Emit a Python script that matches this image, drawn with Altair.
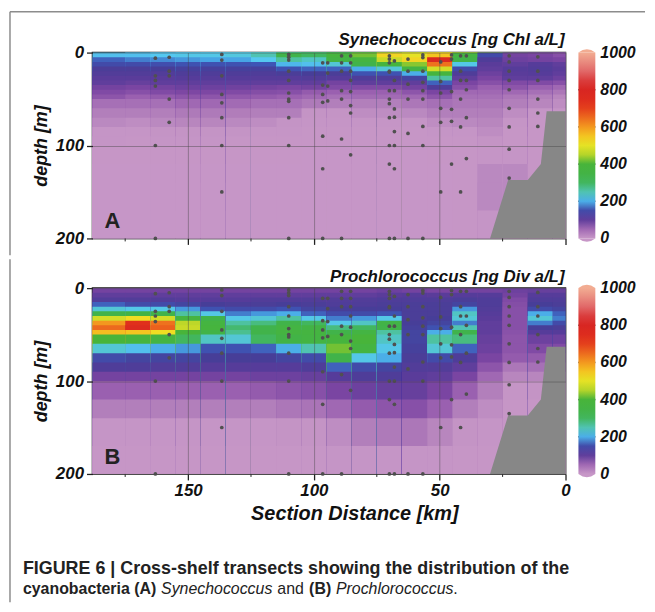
import altair as alt
import pandas as pd

# ---------------- data ----------------
dist_edges = [188, 175, 165, 155, 145, 135, 125, 115, 105, 95, 85, 75, 65, 55, 45, 35, 25, 15, 5, 0]
depth_edges = [0, 5, 10, 15, 20, 25, 30, 35, 40, 45, 50, 60, 70, 80, 90, 100, 120, 140, 170, 200]

# one vertical profile (19 depth cells) per distance column
syn_grid = [
    [210, 170, 150, 125, 115, 105, 100, 85, 75, 65, 45, 35, 28, 15, 12, 8, 5, 5, 5],
    [210, 180, 150, 125, 115, 105, 95, 80, 70, 55, 45, 35, 25, 15, 10, 8, 5, 5, 5],
    [215, 185, 155, 130, 115, 105, 100, 85, 75, 60, 45, 35, 28, 18, 12, 8, 5, 5, 5],
    [220, 190, 160, 135, 120, 110, 100, 90, 78, 65, 50, 38, 30, 20, 12, 8, 5, 5, 5],
    [220, 195, 160, 135, 120, 110, 100, 90, 78, 65, 50, 38, 30, 20, 12, 8, 5, 5, 5],
    [225, 195, 160, 135, 120, 110, 100, 88, 75, 62, 48, 36, 28, 18, 10, 8, 5, 5, 5],
    [250, 215, 165, 135, 120, 110, 100, 85, 72, 60, 45, 35, 25, 15, 10, 8, 5, 5, 5],
    [330, 260, 205, 160, 125, 110, 100, 80, 70, 55, 45, 35, 20, 12, 10, 8, 5, 5, 5],
    [300, 240, 210, 170, 130, 115, 100, 85, 60, 50, 38, 20, 12, 10, 8, 5, 5, 5, 5],
    [380, 350, 230, 170, 125, 110, 85, 75, 55, 45, 35, 20, 12, 10, 8, 5, 5, 5, 5],
    [420, 370, 330, 200, 160, 120, 100, 75, 55, 48, 35, 25, 15, 10, 8, 5, 5, 5, 5],
    [530, 470, 380, 230, 160, 120, 100, 75, 55, 48, 35, 25, 15, 10, 8, 5, 5, 5, 5],
    [500, 530, 430, 350, 200, 140, 100, 85, 65, 50, 40, 28, 15, 10, 8, 5, 5, 5, 5],
    [550, 780, 640, 480, 380, 260, 170, 120, 80, 65, 45, 35, 25, 15, 10, 8, 5, 5, 5],
    [360, 330, 220, 150, 120, 100, 80, 70, 50, 45, 40, 35, 28, 15, 10, 8, 8, 8, 8],
    [150, 120, 105, 100, 90, 80, 70, 55, 50, 45, 40, 35, 30, 25, 20, 15, 28, 28, 15],
    [85, 90, 100, 110, 105, 100, 75, 65, 50, 40, 35, 25, 15, 10, 10, 12, 28, 28, 15],
    [80, 85, 110, 115, 110, 100, 75, 55, 45, 35, 30, 15, 10, 8, 8, 8, 8, 8, 8],
    [70, 80, 100, 105, 100, 90, 70, 50, 40, 30, 25, 15, 10, 8, 8, 8, 8, 8, 8],
]

pro_grid = [
    [85, 100, 115, 170, 230, 330, 480, 600, 650, 560, 400, 230, 150, 120, 85, 55, 35, 15, 10],
    [85, 100, 115, 150, 220, 350, 520, 720, 760, 550, 380, 210, 140, 120, 85, 55, 35, 15, 10],
    [85, 100, 115, 150, 220, 330, 480, 640, 660, 520, 370, 200, 140, 115, 85, 55, 35, 15, 10],
    [85, 100, 110, 140, 190, 260, 380, 460, 470, 400, 300, 190, 140, 115, 85, 55, 35, 15, 10],
    [85, 100, 110, 130, 160, 220, 320, 370, 380, 340, 240, 160, 130, 110, 85, 55, 35, 15, 10],
    [85, 100, 110, 125, 150, 180, 220, 260, 290, 270, 230, 160, 130, 110, 85, 55, 35, 15, 10],
    [85, 100, 115, 125, 150, 190, 230, 280, 320, 330, 300, 170, 130, 110, 90, 60, 35, 15, 10],
    [85, 100, 115, 130, 160, 200, 260, 330, 360, 370, 340, 200, 140, 110, 90, 65, 40, 18, 10],
    [85, 100, 115, 125, 140, 170, 220, 300, 350, 370, 360, 250, 150, 120, 95, 70, 42, 20, 10],
    [85, 100, 115, 120, 130, 150, 180, 220, 280, 330, 380, 420, 330, 170, 110, 80, 50, 25, 12],
    [85, 100, 115, 120, 130, 150, 190, 240, 300, 360, 400, 370, 220, 150, 120, 90, 60, 35, 15],
    [90, 105, 120, 125, 130, 160, 220, 340, 330, 260, 240, 220, 200, 140, 120, 95, 65, 38, 15],
    [85, 110, 120, 125, 125, 125, 125, 130, 135, 140, 140, 135, 125, 115, 105, 95, 70, 40, 15],
    [80, 105, 120, 125, 125, 125, 130, 140, 160, 200, 260, 230, 150, 115, 100, 80, 55, 30, 12],
    [85, 110, 125, 140, 190, 240, 230, 180, 250, 320, 280, 170, 120, 100, 80, 55, 35, 20, 10],
    [85, 110, 120, 120, 115, 110, 105, 100, 100, 100, 95, 90, 80, 65, 50, 35, 25, 15, 10],
    [90, 85, 75, 72, 70, 70, 70, 70, 70, 68, 65, 65, 60, 40, 30, 15, 10, 8, 8],
    [95, 110, 120, 130, 150, 200, 230, 180, 130, 110, 90, 75, 60, 45, 30, 20, 10, 8, 8],
    [95, 110, 120, 125, 140, 170, 180, 150, 125, 110, 90, 75, 60, 45, 30, 20, 10, 8, 8],
]

station_km = [163, 157.5, 136.6, 110, 96.5, 94.5, 89, 85.4, 70, 68, 62.6, 56.7,
              49.6, 45.3, 41.7, 39.4, 22.4, 11]
station_depths = [
    [6, 25, 30, 36, 100, 200],
    [5, 20, 25, 50, 75],
    [2, 8, 25, 45, 54, 70, 100, 150],
    [2, 5, 8, 20, 30, 43.5, 50, 52.5, 70, 100, 200],
    [11, 35, 45, 53.5, 90, 125, 200],
    [11, 22, 36, 52],
    [3.5, 11, 20, 41, 50, 93, 200],
    [3.5, 11, 20, 30, 42, 57, 65, 110],
    [3.5, 7, 11, 20, 21, 41, 50, 55, 70, 100, 120, 200],
    [9, 30, 41, 60.6, 69.5, 85, 100, 125, 200],
    [7, 20, 34, 50, 87, 200],
    [2.5, 5.3, 20, 32, 41, 50, 79.5, 100, 200],
    [10, 31, 43.5, 60, 75, 150],
    [2.5, 7, 42, 61, 74, 120],
    [3.5, 20, 30, 50, 80, 150],
    [3.5, 30, 40, 70, 114],
    [3.5, 10, 20, 30, 40, 60, 80, 104, 135],
    [4.6, 20, 30, 50, 65, 79.5],
]

bathy_km = [30, 22.8, 15, 9.8, 7.5, 0]
bathy_depth = [200, 137, 137, 120, 63, 63]

major_km = [150, 100, 50, 0]
minor_km = [175, 125, 75, 25]
depth_ticks = [0, 100, 200]

cbar_stops = [0, 20, 35, 55, 80, 105, 130, 165, 195, 215, 260, 310, 400, 450, 510, 570, 630, 720, 820, 910, 1000]
cbar_colors = ["#c797c7", "#c494c5", "#b27fbb", "#9a60b0", "#7a45a2", "#5a3c9a", "#473e98",
               "#3e55b5", "#47a5e5", "#55c8f0", "#4ec2a0", "#3fb34e", "#48b43a", "#b4d42a",
               "#efe524", "#f5b520", "#f07a1e", "#e0301c", "#d62424", "#e27070", "#f2ac92"]
legend_values = [0, 200, 400, 600, 800, 1000]
legend_ticks = [200, 400, 600, 800]

titles = ["Synechococcus [ng Chl a/L]", "Prochlorococcus [ng Div a/L]"]
panel_letters = ["A", "B"]
x_title = "Section Distance [km]"
caption_line1 = "FIGURE 6 | Cross-shelf transects showing the distribution of the"
caption_line2 = [("cyanobacteria (A)", "bold", "normal"), ("Synechococcus", "normal", "italic"),
                 ("and", "normal", "normal"), ("(B)", "bold", "normal"),
                 ("Prochlorococcus", "normal", "italic"), (".", "normal", "normal")]
caption_x2 = [-70, 69, 186, 218, 245, 363]

# ---------------- build ----------------
for g in (syn_grid, pro_grid):
    assert len(g) == len(dist_edges) - 1
    for p in g:
        assert len(p) == len(depth_edges) - 1


def cells(grid):
    # painter's order: each cell starts at its own upper-left edge and is
    # overdrawn by the cells that follow it (right / below), so no seams
    rows = []
    for i, prof in enumerate(grid):
        for j, v in enumerate(prof):
            rows.append(dict(x0=dist_edges[i], d0=depth_edges[j], v=v))
    return pd.DataFrame(rows)


pts = pd.DataFrame([dict(km=k, depth=d) for k, ds in zip(station_km, station_depths) for d in ds])
bathy = pd.DataFrame(dict(km=bathy_km, depth=bathy_depth))
minor = pd.DataFrame(dict(km=minor_km))

W, H = 476, 187
FONT = "Liberation Sans, Arial, Helvetica, sans-serif"
FRAME = "#8c8c8c"
CB0 = W + 13           # colour bar left edge
CBW = 17               # colour bar thickness


def txt(s, x, y, size=17, weight="bold", style="italic", align="left", font=FONT, color="#111"):
    return alt.Chart(pd.DataFrame({"t": [s]})).mark_text(
        align=align, baseline="alphabetic", font=font, fontSize=size,
        fontWeight=weight, fontStyle=style, color=color
    ).encode(text="t:N", x=alt.value(x), y=alt.value(y))


def vline(x, y1, y2):
    return alt.Chart(pd.DataFrame({"a": [0]})).mark_rule(color=FRAME, strokeWidth=1.5).encode(
        x=alt.value(x), y=alt.value(y1), y2=alt.value(y2))


def hline(x1, x2, y):
    return alt.Chart(pd.DataFrame({"a": [0]})).mark_rule(color=FRAME, strokeWidth=1.5).encode(
        x=alt.value(x1), x2=alt.value(x2), y=alt.value(y))


def panel(grid, idx):
    bottom = idx == 1
    xs = alt.Scale(domain=[0, 188], reverse=True, nice=False, zero=False)
    ys = alt.Scale(domain=[0, 200], reverse=True, nice=False, zero=False)
    cs = alt.Scale(type="linear", domain=cbar_stops, range=cbar_colors, interpolate="rgb")
    xaxis = alt.Axis(values=major_km, labels=bottom, ticks=True, tickSize=6, tickColor="#222",
                     tickWidth=1.3, grid=True, gridColor="#444", gridOpacity=0.55, gridWidth=0.8,
                     domain=False, title=None, labelFont=FONT, labelFontSize=17,
                     labelFontStyle="italic", labelFontWeight="bold", labelColor="#111",
                     labelPadding=3, labelFlush=False, zindex=1)
    yaxis = alt.Axis(values=depth_ticks, ticks=True, tickSize=6, tickColor="#222", tickWidth=1.3,
                     grid=True, gridColor="#444", gridOpacity=0.55, gridWidth=0.8, domain=False,
                     title="depth [m]", titleFont=FONT, titleFontSize=18, titleFontStyle="italic",
                     titleFontWeight="bold", titleColor="#111", titlePadding=5,
                     labelFont=FONT, labelFontSize=17, labelFontStyle="italic",
                     labelFontWeight="bold", labelColor="#111", labelPadding=3, zindex=1)
    legend = alt.Legend(title=None, type="gradient", orient="right", direction="vertical",
                        offset=13, padding=0, gradientLength=H, gradientThickness=CBW,
                        gradientStrokeWidth=0, values=legend_values, labelExpr="''",
                        labelOpacity=0)
    field = alt.Chart(cells(grid)).mark_rect(strokeWidth=0).encode(
        x=alt.X("x0:Q", scale=xs, axis=xaxis), x2=alt.datum(dist_edges[-1]),
        y=alt.Y("d0:Q", scale=ys, axis=yaxis), y2=alt.datum(depth_edges[-1]),
        color=alt.Color("v:Q", scale=cs, legend=legend),
    )
    sea = alt.Chart(bathy).mark_area(color="#878787", opacity=1).encode(
        x="km:Q", y="depth:Q", y2=alt.datum(200))
    dots = alt.Chart(pts).mark_circle(size=14, color="#505050", opacity=1).encode(
        x="km:Q", y="depth:Q")
    mticks = alt.Chart(minor).mark_rule(color="#222", strokeWidth=1).encode(
        x="km:Q", y=alt.value(H), y2=alt.value(H + 3))
    layers = [field, sea, dots, mticks,
              txt(titles[idx], W - 1, -8 if idx == 0 else -6, size=17, align="right"),
              txt(panel_letters[idx], 12, H - 10, size=22, style="normal", color="#222")]
    if idx == 0:
        layers += [hline(-83, 556, -41), vline(-83, -41, H + 17)]
    else:
        layers += [vline(-83, -29, 316),
                   txt(x_title, 264, H + 46, size=20, align="center"),
                   txt(caption_line1, -70, 288, size=18, style="normal", color="#222")]
        for (s, wt, st), x in zip(caption_line2, caption_x2):
            layers.append(txt(s, x, 308, size=16, weight=wt, style=st, color="#222"))
    main = alt.layer(*layers)

    # colour-bar labels, tick dashes and end caps on their own value scale
    cy = alt.Y("v:Q", scale=alt.Scale(domain=[0, 1000], nice=False, zero=False), axis=None)
    lab = alt.Chart(pd.DataFrame({"v": legend_values})).mark_text(
        align="left", baseline="middle", font=FONT, fontSize=16, fontStyle="italic",
        fontWeight="bold", color="#111"
    ).encode(y=cy, x=alt.value(CB0 + CBW + 5), text=alt.Text("v:Q", format="d"))
    tdf = pd.DataFrame({"v": legend_ticks})
    tl = alt.Chart(tdf).mark_rule(color="#111", strokeWidth=1.5).encode(
        y=cy, x=alt.value(CB0), x2=alt.value(CB0 + 5))
    tr = alt.Chart(tdf).mark_rule(color="#111", strokeWidth=1.5).encode(
        y=cy, x=alt.value(CB0 + CBW - 5), x2=alt.value(CB0 + CBW))
    cap_top = alt.Chart(pd.DataFrame({"v": [legend_values[-1]]})).mark_point(
        shape="M-1,0L-0.5,-0.3L0,-0.4L0.5,-0.3L1,0Z", filled=True, size=CBW * CBW,
        color=cbar_colors[-1], opacity=1, strokeWidth=0
    ).encode(y=cy, x=alt.value(CB0 + CBW / 2))
    cap_bot = alt.Chart(pd.DataFrame({"v": [legend_values[0]]})).mark_point(
        shape="M-1,0L-0.5,0.3L0,0.4L0.5,0.3L1,0Z", filled=True, size=CBW * CBW,
        color=cbar_colors[0], opacity=1, strokeWidth=0
    ).encode(y=cy, x=alt.value(CB0 + CBW / 2))

    return alt.layer(main, lab, tl, tr, cap_top, cap_bot).resolve_scale(
        y="independent").properties(width=W, height=H)


chart = alt.vconcat(panel(syn_grid, 0), panel(pro_grid, 1), spacing=0).resolve_scale(
    color="independent"
).properties(padding=0).configure_view(stroke="#1a1a1a", strokeWidth=1.5)

chart.save("out.html", embed_options={"renderer": "svg", "actions": False})
